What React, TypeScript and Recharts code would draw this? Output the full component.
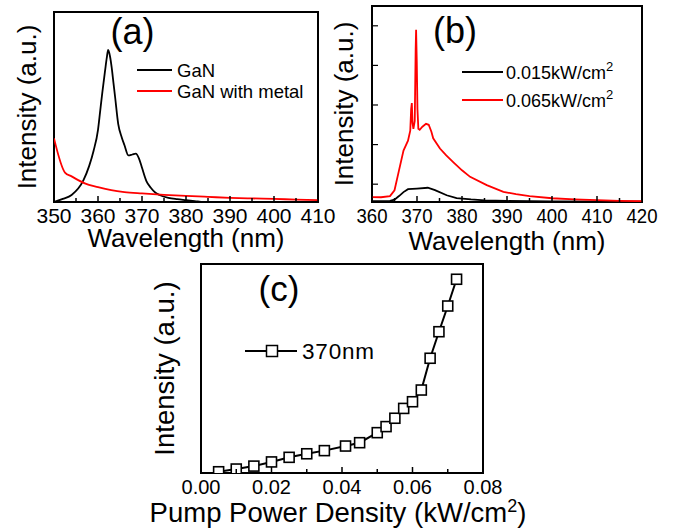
import React from "react";
import { LineChart, Line, XAxis, YAxis, ReferenceArea, Legend, Label } from "recharts";

const FONT = "'Liberation Sans', Arial, Helvetica, sans-serif";

// (a) PL spectra, GaN vs GaN with metal
const aGanNm = [350, 352, 354, 356.7, 358, 359, 360, 360.5, 361, 361.6, 362, 362.3, 362.7, 363.1, 363.5, 363.9, 364.6, 365.4, 366, 366.9, 367.8, 368.6, 369.3, 370, 371, 372, 373, 374, 376, 378, 380, 382, 384, 390, 400, 410];
const aGanInt = [0.0, 0.016, 0.037, 0.115, 0.19, 0.27, 0.38, 0.48, 0.58, 0.69, 0.76, 0.8, 0.77, 0.71, 0.63, 0.55, 0.41, 0.34, 0.3, 0.245, 0.25, 0.255, 0.23, 0.18, 0.11, 0.075, 0.05, 0.037, 0.022, 0.015, 0.01, 0.005, 0.0, 0.0, 0.0, 0.0];
const aMetalNm = [350, 352.5, 354, 355.5, 357, 360, 363, 366, 370, 375, 380, 385, 390, 395, 400, 405, 410];
const aMetalInt = [0.335, 0.155, 0.135, 0.115, 0.098, 0.078, 0.062, 0.052, 0.045, 0.038, 0.032, 0.027, 0.022, 0.019, 0.016, 0.013, 0.01];
const aTicks = [350, 355, 360, 365, 370, 375, 380, 385, 390, 395, 400, 405, 410];
const aTickLabels = ["350", "360", "370", "380", "390", "400", "410"];

// (b) spectra at two pump densities
const bLowNm = [360, 364, 365, 366, 367, 368, 370, 372.4, 374, 376.6, 378.8, 382, 385, 390, 400, 420];
const bLowInt = [-0.086, -0.084, -0.078, -0.06, -0.04, -0.025, -0.022, -0.018, -0.03, -0.056, -0.07, -0.077, -0.082, -0.085, -0.087, -0.088];
const bHighNm = [360, 362, 364, 365, 366, 367, 368, 368.5, 368.7, 368.85, 369, 369.2, 369.5, 369.7, 369.8, 369.95, 370.1, 370.3, 370.6, 371.2, 372, 372.6, 373.2, 373.6, 375.1, 376.5, 378.1, 380, 381.8, 385.5, 389.2, 392, 395, 400, 405, 410, 415, 420];
const bHighInt = [-0.065, -0.066, -0.06, -0.031, 0.07, 0.17, 0.22, 0.27, 0.38, 0.41, 0.31, 0.28, 0.32, 0.68, 0.78, 0.62, 0.38, 0.28, 0.275, 0.29, 0.305, 0.3, 0.265, 0.232, 0.18, 0.145, 0.11, 0.07, 0.037, -0.005, -0.039, -0.05, -0.06, -0.071, -0.077, -0.081, -0.084, -0.086];
const bTicks = [360, 365, 370, 375, 380, 385, 390, 395, 400, 405, 410, 415, 420];
const bTickLabels = ["360", "370", "380", "390", "400", "410", "420"];
const bYTicks = [0, 0.2, 0.4, 0.6, 0.8];

// (c) intensity at 370nm vs pump power density
const cPower = [0.005, 0.01, 0.015, 0.02, 0.025, 0.03, 0.035, 0.041, 0.045, 0.05, 0.0525, 0.055, 0.0575, 0.06, 0.0625, 0.065, 0.0675, 0.07, 0.0725];
const cInt = [0.006, 0.019, 0.033, 0.053, 0.075, 0.092, 0.107, 0.129, 0.145, 0.193, 0.222, 0.262, 0.309, 0.341, 0.397, 0.549, 0.676, 0.799, 0.927];
const cTicks = [0, 0.01, 0.02, 0.03, 0.04, 0.05, 0.06, 0.07, 0.08];
const cTickLabels = ["0.00", "0.02", "0.04", "0.06", "0.08"];

const zip = (xs: number[], ys: number[]) => xs.map((x, i) => ({ x, y: ys[i] }));

// bottom ticks point inward; only the labelled ones get text
const xTick = (labels: string[], fmt: (v: number) => string, dy: number, size: number, squeeze?: number) => (p: any) => {
  const txt = fmt(p.payload.value);
  const major = labels.includes(txt);
  return (
    <g>
      <line x1={p.x} x2={p.x} y1={p.y} y2={p.y - (major ? 6 : 4)} stroke="#000" strokeWidth={1.5} />
      {major && (
        <text x={p.x} y={p.y + dy} textAnchor="middle" fontSize={size} fontFamily={FONT} fill="#000"
          {...(squeeze ? { textLength: squeeze, lengthAdjust: "spacingAndGlyphs" } : {})}>
          {txt}
        </text>
      )}
    </g>
  );
};

const yTickIn = (p: any) => (
  <line x1={p.x} x2={p.x + 6} y1={p.y} y2={p.y} stroke="#000" strokeWidth={1.2} />
);

const yTitle = (gap: number, size: number) => (p: any) => {
  const vb = p.viewBox || { x: 0, y: 0, width: 0, height: 0 };
  const x = vb.x + vb.width - gap;
  const y = vb.y + vb.height / 2;
  return (
    <text x={x} y={y} transform={`rotate(-90 ${x} ${y})`} textAnchor="middle" fontSize={size} fontFamily={FONT} fill="#000">
      Intensity (a.u.)
    </text>
  );
};

const xTitle = (drop: number, shift: number, size: number, body: React.ReactNode) => (p: any) => {
  const vb = p.viewBox || { x: 0, y: 0, width: 0, height: 0 };
  return (
    <text x={vb.x + vb.width / 2 + shift} y={vb.y + drop} textAnchor="middle" fontSize={size} fontFamily={FONT} fill="#000">
      {body}
    </text>
  );
};

// legend label with a raised "2"
const supText = (s: string) => {
  const parts = s.split("²");
  if (parts.length < 2) return s;
  return (
    <>
      {parts[0]}
      <tspan dy={-8} fontSize={13}>2</tspan>
      <tspan dy={8}>{parts[1]}</tspan>
    </>
  );
};

const lineLegend = (len: number, gap: number, step: number, size: number) => (p: any) => (
  <svg width={220} height={60} style={{ overflow: "visible" }}>
    {(p.payload || []).map((e: any, i: number) => (
      <g key={i}>
        <line x1={0} x2={len} y1={8 + i * step} y2={8 + i * step} stroke={e.color} strokeWidth={1.8} />
        <text x={len + gap} y={14.5 + i * step} fontSize={size} fontFamily={FONT} fill="#000">
          {supText(String(e.value))}
        </text>
      </g>
    ))}
  </svg>
);

const SquareDot = (p: any) => {
  if (p.cx == null || p.cy == null) return <g />;
  return <rect x={p.cx - 5} y={p.cy - 5} width={10} height={10} fill="#fff" stroke="#000" strokeWidth={1.6} />;
};

const cLegend = (p: any) => (
  <svg width={160} height={30} style={{ overflow: "visible" }}>
    {(p.payload || []).map((e: any, i: number) => (
      <g key={i}>
        <line x1={0} x2={52} y1={10} y2={10} stroke="#000" strokeWidth={2} />
        <rect x={21.5} y={4.5} width={11} height={11} fill="#fff" stroke="#000" strokeWidth={1.5} />
        <text x={57} y={17.5} fontSize={22.5} letterSpacing={0.8} fontFamily={FONT} fill="#000">{e.value}</text>
      </g>
    ))}
  </svg>
);

const frame = { fill: "none", fillOpacity: 0, stroke: "#000", strokeWidth: 2 };

export default function App() {
  const abs = (left: number, top: number): React.CSSProperties => ({ position: "absolute", left, top });
  return (
    <div style={{ position: "absolute", left: 0, top: 0, width: 674, height: 529, background: "#fff", fontFamily: FONT }}>
      {/* (a) */}
      <div style={abs(0, 0)}>
        <LineChart width={340} height={262} margin={{ top: 12, right: 22, left: 0, bottom: 0 }}>
          <XAxis type="number" dataKey="x" domain={[350, 410]} ticks={aTicks} interval={0} tickSize={0} tickMargin={0}
            tickLine={false} axisLine={false} height={60} allowDataOverflow tick={xTick(aTickLabels, (v) => String(v), 21, 21)}>
            <Label content={xTitle(44.5, 0, 26, "Wavelength (nm)")} />
          </XAxis>
          <YAxis type="number" domain={[0, 1]} width={54} tick={false} tickLine={false} axisLine={false} allowDataOverflow>
            <Label content={yTitle(18, 26)} />
          </YAxis>
          <ReferenceArea x1={350} x2={410} y1={0} y2={1} {...frame} />
          <Line data={zip(aGanNm, aGanInt)} dataKey="y" name="GaN" type="monotone" stroke="#000" strokeWidth={1.8} dot={false} isAnimationActive={false} />
          <Line data={zip(aMetalNm, aMetalInt)} dataKey="y" name="GaN with metal" type="monotone" stroke="#ff0000" strokeWidth={1.8} dot={false} isAnimationActive={false} />
          <Legend layout="vertical" align="center" verticalAlign="middle" content={lineLegend(35, 5, 21, 18.5)}
            wrapperStyle={{ left: 137, top: 62, width: 200, height: 50 }} />
        </LineChart>
      </div>

      {/* (b) */}
      <div style={abs(315, 0)}>
        <LineChart width={359} height={262} margin={{ top: 6, right: 32, left: 0, bottom: 0 }}>
          <XAxis type="number" dataKey="x" domain={[360, 420]} ticks={bTicks} interval={0} tickSize={0} tickMargin={0}
            tickLine={false} axisLine={false} height={60} allowDataOverflow tick={xTick(bTickLabels, (v) => String(v), 21, 20, 31)}>
            <Label content={xTitle(48, 0, 26, "Wavelength (nm)")} />
          </XAxis>
          <YAxis type="number" domain={[-0.09, 0.9]} ticks={bYTicks} interval={0} width={57} tickSize={0} tickMargin={0}
            tickLine={false} axisLine={false} allowDataOverflow tick={yTickIn}>
            <Label content={yTitle(19, 26)} />
          </YAxis>
          <ReferenceArea x1={360} x2={420} y1={-0.09} y2={0.9} {...frame} />
          <Line data={zip(bLowNm, bLowInt)} dataKey="y" name="0.015kW/cm²" type="linear" stroke="#000" strokeWidth={1.8} dot={false} isAnimationActive={false} />
          <Line data={zip(bHighNm, bHighInt)} dataKey="y" name="0.065kW/cm²" type="linear" stroke="#ff0000" strokeWidth={1.8} dot={false} isAnimationActive={false} />
          <Legend layout="vertical" align="center" verticalAlign="middle" content={lineLegend(41, 3, 28, 18)}
            wrapperStyle={{ left: 147, top: 64, width: 210, height: 60 }} />
        </LineChart>
      </div>

      {/* (c) */}
      <div style={abs(125, 250)}>
        <LineChart width={425} height={279} margin={{ top: 14, right: 67, left: 0, bottom: 0 }}>
          <XAxis type="number" dataKey="x" domain={[0, 0.08]} ticks={cTicks} interval={0} tickSize={0} tickMargin={0}
            tickLine={false} axisLine={false} height={56} allowDataOverflow tick={xTick(cTickLabels, (v) => v.toFixed(2), 21, 20)}>
            <Label content={xTitle(49, -4, 27.5, <>Pump Power Density (kW/cm<tspan dy={-10} fontSize={18}>2</tspan><tspan dy={10}>)</tspan></>)} />
          </XAxis>
          <YAxis type="number" domain={[0, 1]} width={76} tick={false} tickLine={false} axisLine={false} allowDataOverflow>
            <Label content={yTitle(27, 27.5)} />
          </YAxis>
          <ReferenceArea x1={0} x2={0.08} y1={0} y2={1} {...frame} />
          <Line data={zip(cPower, cInt)} dataKey="y" name="370nm" type="linear" stroke="#000" strokeWidth={2} dot={<SquareDot />} isAnimationActive={false} />
          <Legend layout="vertical" align="center" verticalAlign="middle" content={cLegend}
            wrapperStyle={{ left: 120, top: 91, width: 160, height: 30 }} />
        </LineChart>
      </div>

      {/* panel letters */}
      <svg width={674} height={529} style={{ position: "absolute", left: 0, top: 0, pointerEvents: "none" }}>
        <text x={132.5} y={44} textAnchor="middle" fontSize={36} fontFamily={FONT}>(a)</text>
        <text x={455} y={43} textAnchor="middle" fontSize={36} fontFamily={FONT}>(b)</text>
        <text x={279} y={301} textAnchor="middle" fontSize={35} fontFamily={FONT}>(c)</text>
      </svg>
    </div>
  );
}
